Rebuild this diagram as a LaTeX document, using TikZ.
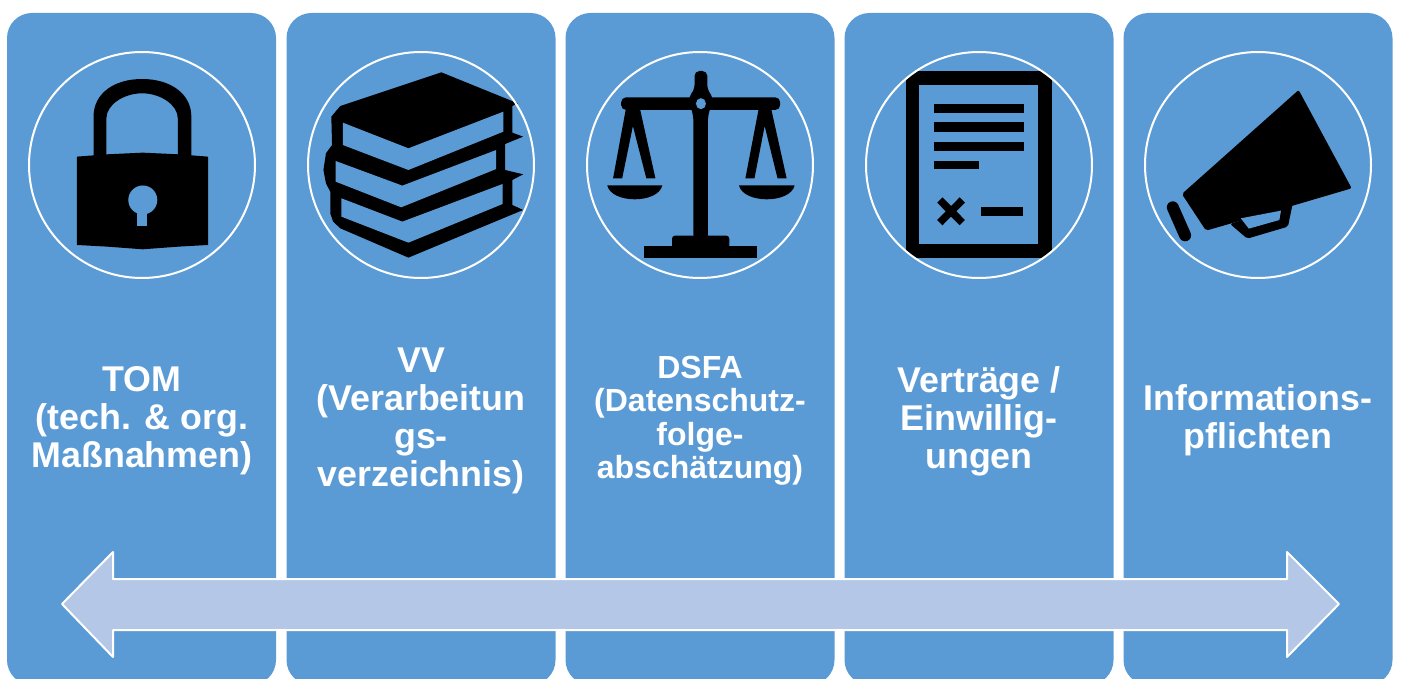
\documentclass[tikz,border=0pt]{standalone}
\usepackage{fontspec}
\setmainfont{Liberation Sans}
\definecolor{cardblue}{HTML}{5B9BD5}
\definecolor{arrowblue}{HTML}{B4C7E7}
\tikzset{
  card/.style={fill=cardblue,rounded corners=25pt,minimum width=269pt,minimum height=672pt,inner sep=0pt},
  ring/.style={circle,draw=white,line width=2pt,minimum size=226pt,inner sep=0pt},
  caption/.style={text=white,align=center,font=\bfseries,inner sep=0pt},
  icon/.style={fill=black},
  hole/.style={fill=cardblue}
}
\begin{document}
\begin{tikzpicture}[x=1pt,y=-1pt,line join=round]
\useasboundingbox (0,0) rectangle (1401,679);
\clip (0,0) rectangle (1401,679);

\foreach \x/\n in {141.5/tom,421/vv,700/dsfa,979/vertrag,1258/info}{\node[card] (\n) at (\x,349) {};}

% lock and books
\begin{scope}[x=0.357pt,y=-0.3333pt]
\fill[icon] (215,470) -- (300,463) -- (400,458) -- (500,463) -- (583,470) -- (583,735) -- (500,740) -- (400,748) -- (300,740) -- (215,735) -- cycle;
\fill[icon] (262,470) -- (262,350) .. controls (262,280) and (320,237) .. (398,237) .. controls (476,237) and (536,280) .. (536,350) -- (536,470) -- (498,470) -- (498,355) .. controls (498,315) and (450,280) .. (398,280) .. controls (346,280) and (298,315) .. (298,355) -- (298,470) -- cycle;
\fill[hole] (400,600) circle (14.5pt);
\fill[hole] (385,625) rectangle (413,678);
\end{scope}
\begin{scope}[x=0.3585pt,y=-0.3333pt,xshift=1.5pt]
\fill[icon] (1227,217) -- (1440,310) -- (1425,318) -- (1425,398) -- (1455,410) -- (1405,432) -- (1405,510) -- (1455,523) -- (1425,540) -- (1425,615) -- (1455,630) -- (1135,773) -- (945,685) -- (925,665) -- (917,640) -- (917,575) -- (905,550) -- (898,510) -- (905,460) -- (922,435) -- (920,350) -- (945,318) -- cycle;
\fill[hole] (952,368) -- (1135,445) -- (1400,335) -- (1400,395) -- (1135,510) -- (952,435) -- cycle;
\fill[hole] (932,483) -- (1118,557) -- (1380,450) -- (1380,507) -- (1115,622) -- (932,545) -- cycle;
\fill[hole] (948,595) -- (1118,665) -- (1398,552) -- (1398,612) -- (1135,728) -- (948,650) -- cycle;
\end{scope}

% scales, contract, megaphone
\begin{scope}[x=0.5356pt,y=-0.3333pt,xshift=560.6pt]
\fill[icon,rounded corners=5pt] (248,720) -- (248,350) -- (238,292) -- (250,270) -- (250,213) -- (274,213) -- (274,270) -- (285,292) -- (275,350) -- (275,720) -- cycle;
\fill[icon,rounded corners=5pt] (113,292) rectangle (410,330);
\fill[hole] (262,311) ellipse (5pt and 5.5pt);
\fill[icon] (122,325) -- (148,325) -- (177,535) -- (160,535) -- (135,378) -- (115,535) -- (98,535) -- cycle;
\fill[icon] (370,325) -- (393,325) -- (422,535) -- (405,535) -- (381,378) -- (362,535) -- (345,535) -- cycle;
\fill[icon] (87,556) .. controls (95,612) and (182,612) .. (190,556) -- cycle;
\fill[icon] (333,556) .. controls (341,612) and (429,612) .. (437,556) -- cycle;
\fill[icon] (155,737) rectangle (367,775);
\fill[icon,rounded corners=3pt] (208,745) -- (208,707) -- (315,707) -- (315,745) -- cycle;

\begin{scope}
\clip (781,495) circle (113pt);
\fill[icon] (645,212) rectangle (917,775);
\end{scope}
\fill[hole] (670,255) rectangle (892,733);
\foreach \a/\b in {313/339,367/397,425/452}{\fill[icon] (697,\a) rectangle (865,\b);}
\fill[icon] (697,482) rectangle (781,507);
\fill[icon] (785,621) rectangle (864,649);
\draw[line width=7.5pt] (708,600) -- (750,668) (750,600) -- (708,668);

\fill[icon,rounded corners=2pt] (1378,270) -- (1477,565) -- (1365,618) -- (1205,692) -- (1160,582) -- cycle;
\fill[icon,rounded corners=2pt] (1250,672) -- (1282,716) -- (1358,680) -- (1367,610) -- cycle;
\fill[hole] (1270,655) -- (1285,686) -- (1342,660) -- (1345,632) -- cycle;
\draw[line width=12pt,line cap=round] (1143,622) -- (1166,706);
\end{scope}

\foreach \x/\n in {142/tom,421/vv,700/dsfa,979/vertrag,1258/info}{\node[ring] (ring-\n) at (\x,165) {};}

\draw[draw=white,line width=2pt,fill=arrowblue] (62,604) -- (113,552) -- (113,579) -- (1287,579) -- (1287,552) -- (1339,604) -- (1287,657) -- (1287,630) -- (113,630) -- (113,657) -- cycle;

\foreach \x/\y/\s/\k/\n/\t in {
  142/421/35.8/38/tom/{TOM\\(tech. \& org.\\Maßnahmen)},
  421/421/35.8/38/vv/{VV\\(Verarbeitun\\gs-\\verzeichnis)},
  700/420.5/32/33.5/dsfa/{DSFA\\(Datenschutz-\\folge-\\abschätzung)},
  979/421/35.8/38/vertrag/{Verträge /\\Einwillig-\\ungen},
  1258/420/35.8/38/info/{Informations-\\pflichten}}{
\node[caption,font=\bfseries\fontsize{\s}{\k}\selectfont] (label-\n) at (\x,\y) {\t};}
\end{tikzpicture}
\end{document}
